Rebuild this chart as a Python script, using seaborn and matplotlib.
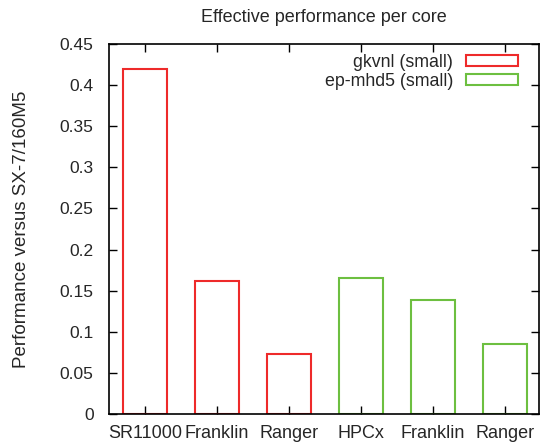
import matplotlib
matplotlib.use("Agg")
import matplotlib.pyplot as plt
import seaborn as sns
import pandas as pd
from matplotlib.ticker import FuncFormatter, MultipleLocator

# Data
bar_ids = ["SR11000", "Franklin_g", "Ranger_g", "HPCx", "Franklin_e", "Ranger_e"]
tick_labels = ["SR11000", "Franklin", "Ranger", "HPCx", "Franklin", "Ranger"]
series = ["gkvnl (small)", "gkvnl (small)", "gkvnl (small)",
          "ep-mhd5 (small)", "ep-mhd5 (small)", "ep-mhd5 (small)"]
values = [0.420, 0.162, 0.073, 0.165, 0.139, 0.085]

df = pd.DataFrame({"id": bar_ids, "series": series, "value": values})

sns.set_theme(style="white")
plt.rcParams["font.family"] = ["Liberation Sans", "DejaVu Sans"]

fig = plt.figure(figsize=(5.42, 4.45), dpi=100)
ax = fig.add_axes([109/542, 1 - 414/445, (539-109)/542, (414-44)/445])

palette = {"gkvnl (small)": "#ee2a2a", "ep-mhd5 (small)": "#6dbf40"}
sns.barplot(data=df, x="id", y="value", hue="series", order=bar_ids,
            hue_order=["gkvnl (small)", "ep-mhd5 (small)"],
            palette=palette, dodge=False, width=0.61, fill=False,
            linewidth=1.5, ax=ax, legend=True)

for p in ax.patches:
    p.set_linewidth(1.5)

ax.set_xlim(-0.5, 5.47)
ax.set_ylim(0, 0.45)
ax.yaxis.set_major_locator(MultipleLocator(0.05))
ax.yaxis.set_major_formatter(FuncFormatter(lambda v, p: "%g" % round(v, 2)))
ax.set_xticks(range(len(bar_ids)))
ax.set_xticklabels(tick_labels, fontsize=13)
ax.tick_params(axis="y", labelsize=12.5, pad=11)
ax.tick_params(axis="x", pad=8)
ax.tick_params(direction="in", length=6, width=1, top=True, right=True,
               bottom=True, left=True, color="black")
for s in ax.spines.values():
    s.set_color("black")
    s.set_linewidth(1.2)

ax.set_xlabel("")
ax.set_ylabel("")
fig.text(22/542, 1 - 229/445, "Performance versus SX-7/160M5", rotation=90,
         ha="center", va="center", fontsize=13.5)
fig.text(324/542, 1 - 18/445, "Effective performance per core", ha="center",
         va="center", fontsize=13)

leg = ax.legend(loc="upper right", bbox_to_anchor=(0.967, 0.992), frameon=False,
                markerfirst=False, handlelength=2.9, handleheight=0.56,
                fontsize=12.8, labelspacing=0.1, handletextpad=0.73,
                borderaxespad=0.0)
for h in leg.legend_handles:
    h.set_linewidth(1.5)

fig.savefig("out.png", dpi=100)
